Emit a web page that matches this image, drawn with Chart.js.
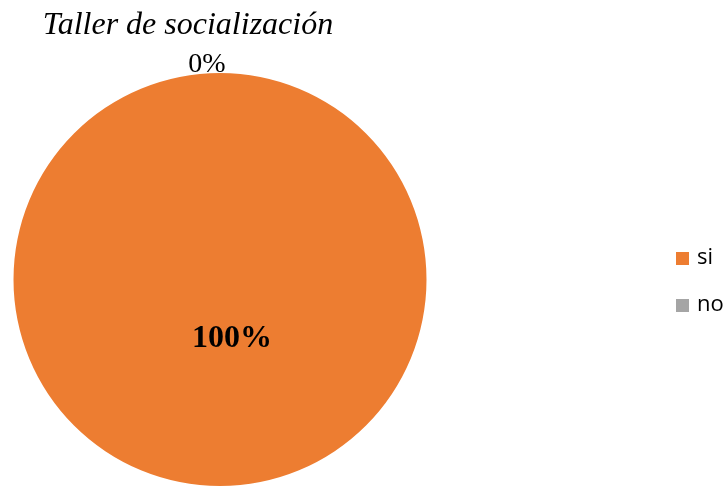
<!DOCTYPE html>
<html lang="es">
<head>
    <meta charset="UTF-8">
    <title>Taller de socialización</title>
    <script src="https://cdn.jsdelivr.net/npm/chart.js"></script>
    <style>
        html, body { margin: 0; padding: 0; background: #fff; }
        .chart-container { width: 727px; height: 486px; position: relative; }
    </style>
</head>
<body>
    <div class="chart-container">
        <canvas id="myChart"></canvas>
    </div>

    <script>
        const chartTitle = 'Taller de socialización';
        const categories = ['si', 'no'];
        const values = [100, 0];
        const pctLabels = ['100%', '0%'];
        const colors = ['#ED7D31', '#A5A5A5'];

        // labels + title + legend drawn on the canvas
        const pieText = {
            id: 'pieText',
            afterDraw(chart) {
                const ctx = chart.ctx;
                const meta = chart.getDatasetMeta(0);
                ctx.save();
                ctx.fillStyle = '#000';
                ctx.textBaseline = 'alphabetic';
                ctx.textAlign = 'center';

                // title
                ctx.font = 'italic 32px "Liberation Serif", "Times New Roman", serif';
                ctx.fillText(chartTitle, 188, 34);

                meta.data.forEach((arc, i) => {
                    const p = arc.getProps(['x', 'y', 'startAngle', 'endAngle', 'outerRadius']);
                    if (values[i] === 0) {
                        const a = p.startAngle;
                        ctx.font = '28px "Liberation Serif", "Times New Roman", serif';
                        ctx.fillText(pctLabels[i], p.x + Math.cos(a) * (p.outerRadius + 1) - 13,
                                     p.y + Math.sin(a) * (p.outerRadius + 1));
                    } else {
                        ctx.font = 'bold 32px "Liberation Serif", "Times New Roman", serif';
                        ctx.fillText(pctLabels[i], p.x + 12, p.y + 67);
                    }
                });

                // legend
                ctx.textAlign = 'left';
                ctx.textBaseline = 'middle';
                ctx.font = '22px "Open Sans", "Liberation Sans", sans-serif';
                categories.forEach((c, i) => {
                    const y = 258 + i * 47;
                    ctx.fillStyle = colors[i];
                    ctx.fillRect(676, y - 6, 13, 13);
                    ctx.fillStyle = '#000';
                    ctx.fillText(c, 697, y);
                });
                ctx.restore();
            }
        };

        new Chart(document.getElementById('myChart'), {
            type: 'pie',
            data: {
                labels: categories,
                datasets: [{
                    data: values,
                    backgroundColor: colors,
                    borderWidth: 0
                }]
            },
            options: {
                responsive: true,
                maintainAspectRatio: false,
                animation: false,
                layout: { padding: { left: 13, top: 73, right: 300, bottom: 0 } },
                plugins: {
                    legend: { display: false },
                    tooltip: { enabled: false }
                }
            },
            plugins: [pieText]
        });
    </script>
</body>
</html>
